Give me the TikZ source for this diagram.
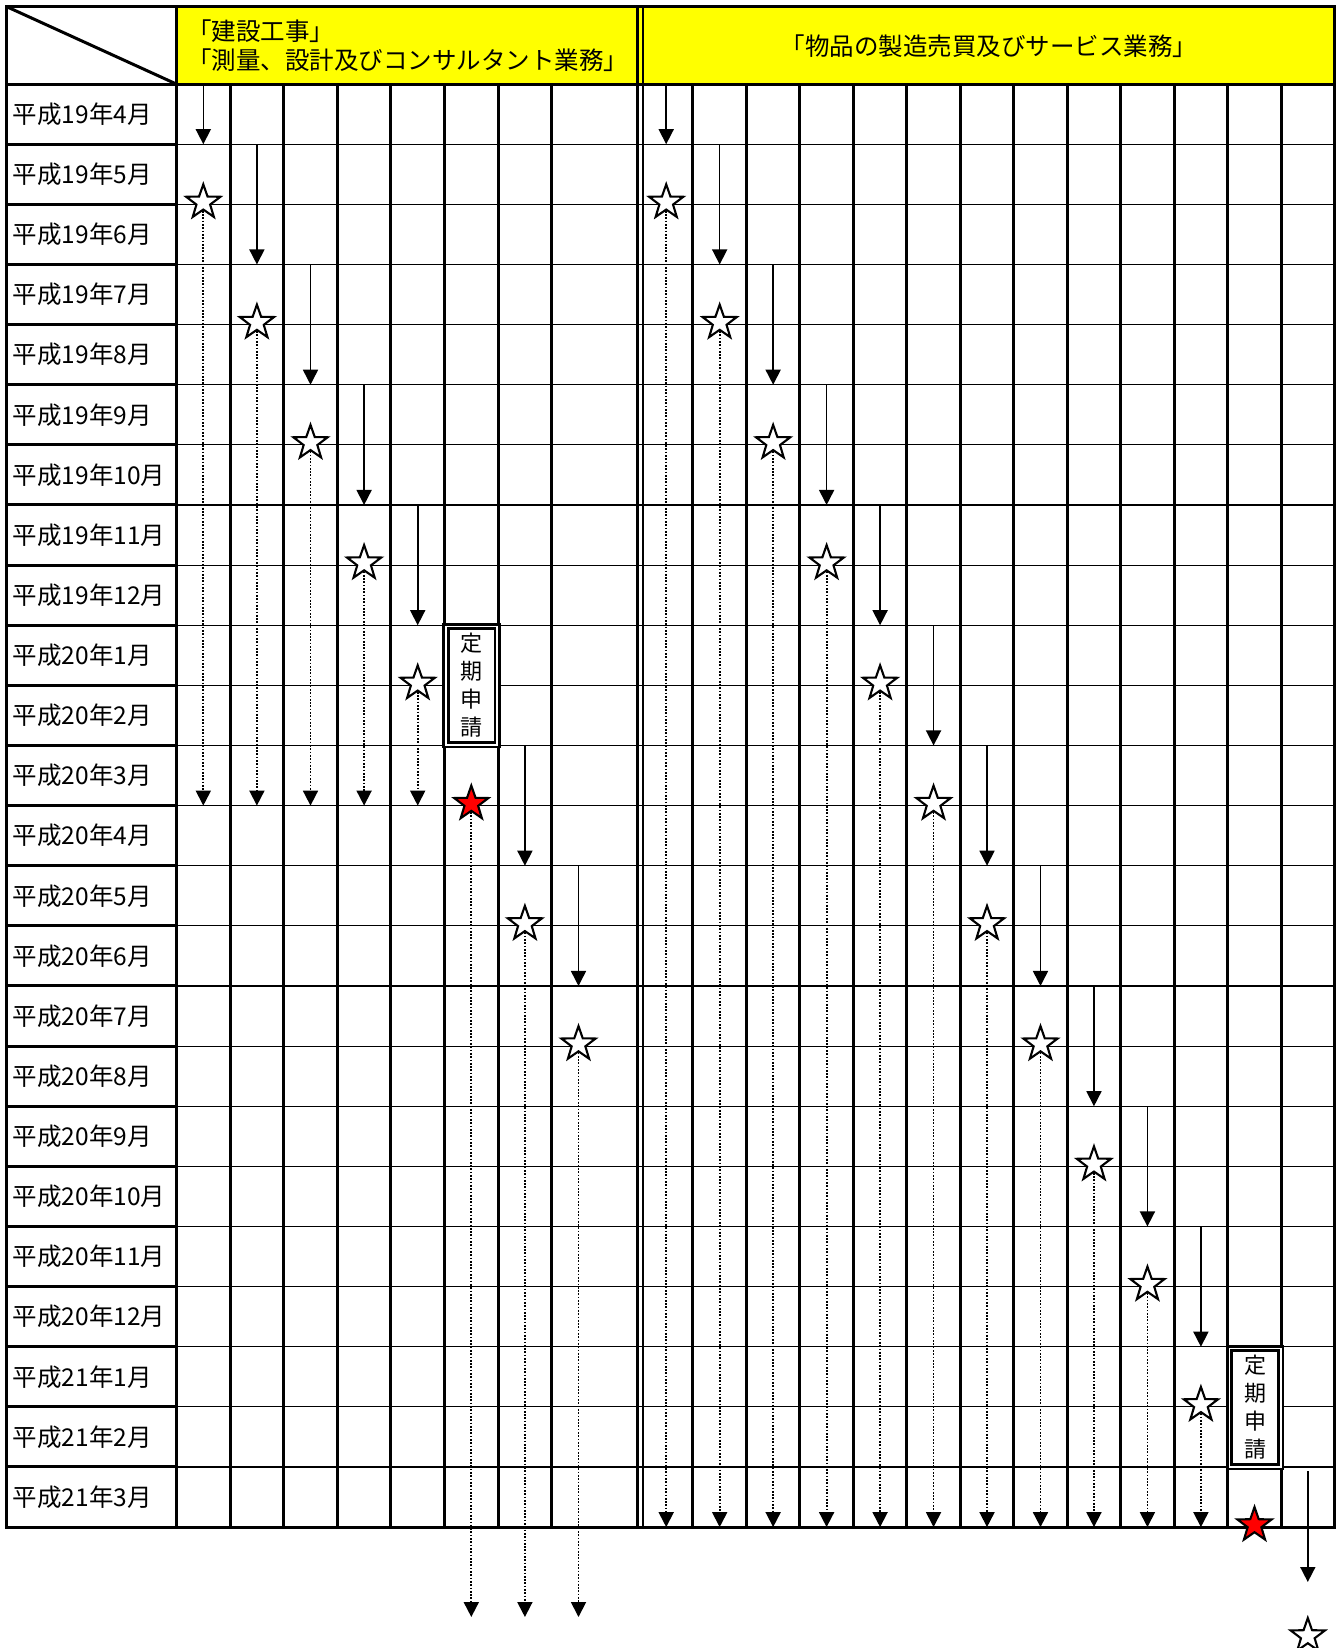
\documentclass[tikz,border=0pt]{standalone}
\usepackage{fontspec}
\setmainfont{Noto Sans CJK JP}
\usepackage{tikz}
\usetikzlibrary{arrows.meta,shapes.geometric,positioning}

\definecolor{hdyellow}{HTML}{FFFF00}

\begin{document}
\begin{tikzpicture}[x=1pt,y=-1pt,>={Triangle[width=15pt,length=15pt]},
  thk/.style={line width=3pt},
  thn/.style={line width=1.2pt},
  go/.style={->,line width=1.6pt},
  wait/.style={->,line width=1.8pt,dash pattern=on 1.7pt off 1.6pt},
  starw/.style={star,star points=5,star point ratio=2.5,minimum size=36pt,inner sep=0pt,draw,line width=2.1pt,fill=white},
  starr/.style={starw,fill=red},
  lbl/.style={anchor=west,inner sep=0pt,font=\fontsize{24.5}{28}\selectfont},
  hd/.style={inner sep=0pt,font=\fontsize{24.5}{28.5}\selectfont},
  tei/.style={draw,double,double distance=1.6pt,line width=2.8pt,fill=white,inner sep=0pt,
    minimum width=51.2pt,minimum height=118.4pt,align=center,font=\fontsize{22}{28}\selectfont}]
  \useasboundingbox[fill=white] (0,0) rectangle (1343,1648);

  \fill[hdyellow] (176.5,6.7) rectangle (1334.6,84.1);

  \foreach \r in {1,...,23}{
    \draw[thn] (176.5,84.1+60.125*\r) -- (1334.6,84.1+60.125*\r);
    \draw[thk] (6.7,84.1+60.125*\r) -- (176.5,84.1+60.125*\r);
  }
  \foreach \k in {1,...,7}
    \draw[thk] (176.5+53.6*\k,84.1) -- (176.5+53.6*\k,1527.1);
  \foreach \j in {1,...,12}
    \draw[thk] (639.4+53.47*\j,84.1) -- (639.4+53.47*\j,1527.1);
  \draw[line width=2.8pt] (637.4,6.7) -- (637.4,1527.1) (643,6.7) -- (643,1527.1);
  \draw[thk] (176.5,6.7) -- (176.5,1527.1);
  \draw[thk] (6.7,84.1) -- (1334.6,84.1);
  \draw[thk] (6.7,6.7) -- (176.5,84.1);
  \draw[line width=3.2pt] (6.7,6.7) rectangle (1334.6,1527.1);

  \node[hd,anchor=west,align=left] (hdA) at (187,45.9) {「建設工事」\\「測量、設計及びコンサルタント業務」};
  \node[hd] (hdB) at (988.8,45.7) {「物品の製造売買及びサービス業務」};

  \foreach \yr/\mo [count=\i from 0] in {19/4,19/5,19/6,19/7,19/8,19/9,19/10,19/11,19/12,
      20/1,20/2,20/3,20/4,20/5,20/6,20/7,20/8,20/9,20/10,20/11,20/12,21/1,21/2,21/3}
    \node[lbl] (m\i) at (12.7,114.2+60.125*\i) {平成\yr 年\mo 月};

  \foreach \k/\ye in {0/805.6,1/805.6,2/805.6,3/805.6,4/805.6,6/1617,7/1617}{
    \pgfmathsetmacro\cx{203.3+53.6*\k}
    \pgfmathsetmacro\ya{max(84.1,84.1+60.125*(2*\k-1))}
    \pgfmathsetmacro\yb{84.1+60.125*(2*\k+1)}
    \pgfmathsetmacro\ys{84.1+60.125*(2*\k+2)-2}
    \coordinate (la\k) at (\cx,\ya);
    \coordinate (lb\k) at (\cx,\yb);
    \coordinate (le\k) at (\cx,\ye);
    \node[starw] (ls\k) at (\cx,\ys) {};
    \draw[go] (la\k) -- (lb\k);
    \draw[wait] (ls\k) -- (le\k);
  }
  \node[tei] (teiA) at (471.5,685.5) {定\\期\\申\\請};
  \node[starr] (ls5) at (471.3,803.6) {};
  \coordinate (le5) at (471.3,1617);
  \draw[wait] (ls5) -- (le5);

  \foreach \j in {0,...,10}{
    \pgfmathsetmacro\cx{666.2+53.47*\j}
    \pgfmathsetmacro\ya{max(84.1,84.1+60.125*(2*\j-1))}
    \pgfmathsetmacro\yb{84.1+60.125*(2*\j+1)}
    \pgfmathsetmacro\ys{84.1+60.125*(2*\j+2)-2}
    \coordinate (ra\j) at (\cx,\ya);
    \coordinate (rb\j) at (\cx,\yb);
    \coordinate (re\j) at (\cx,1527.1);
    \node[starw] (rs\j) at (\cx,\ys) {};
    \draw[go] (ra\j) -- (rb\j);
    \draw[wait] (rs\j) -- (re\j);
  }
  \node[tei] (teiB) at (1255.2,1407.5) {定\\期\\申\\請};
  \node[starr] (rs11) at (1254.5,1525) {};
  \coordinate (ra12) at (1307.8,1471);
  \coordinate (rb12) at (1307.8,1582);
  \node[starw] (rs12) at (1307.8,1636) {};
  \draw[go] (ra12) -- (rb12);
\end{tikzpicture}
\end{document}
